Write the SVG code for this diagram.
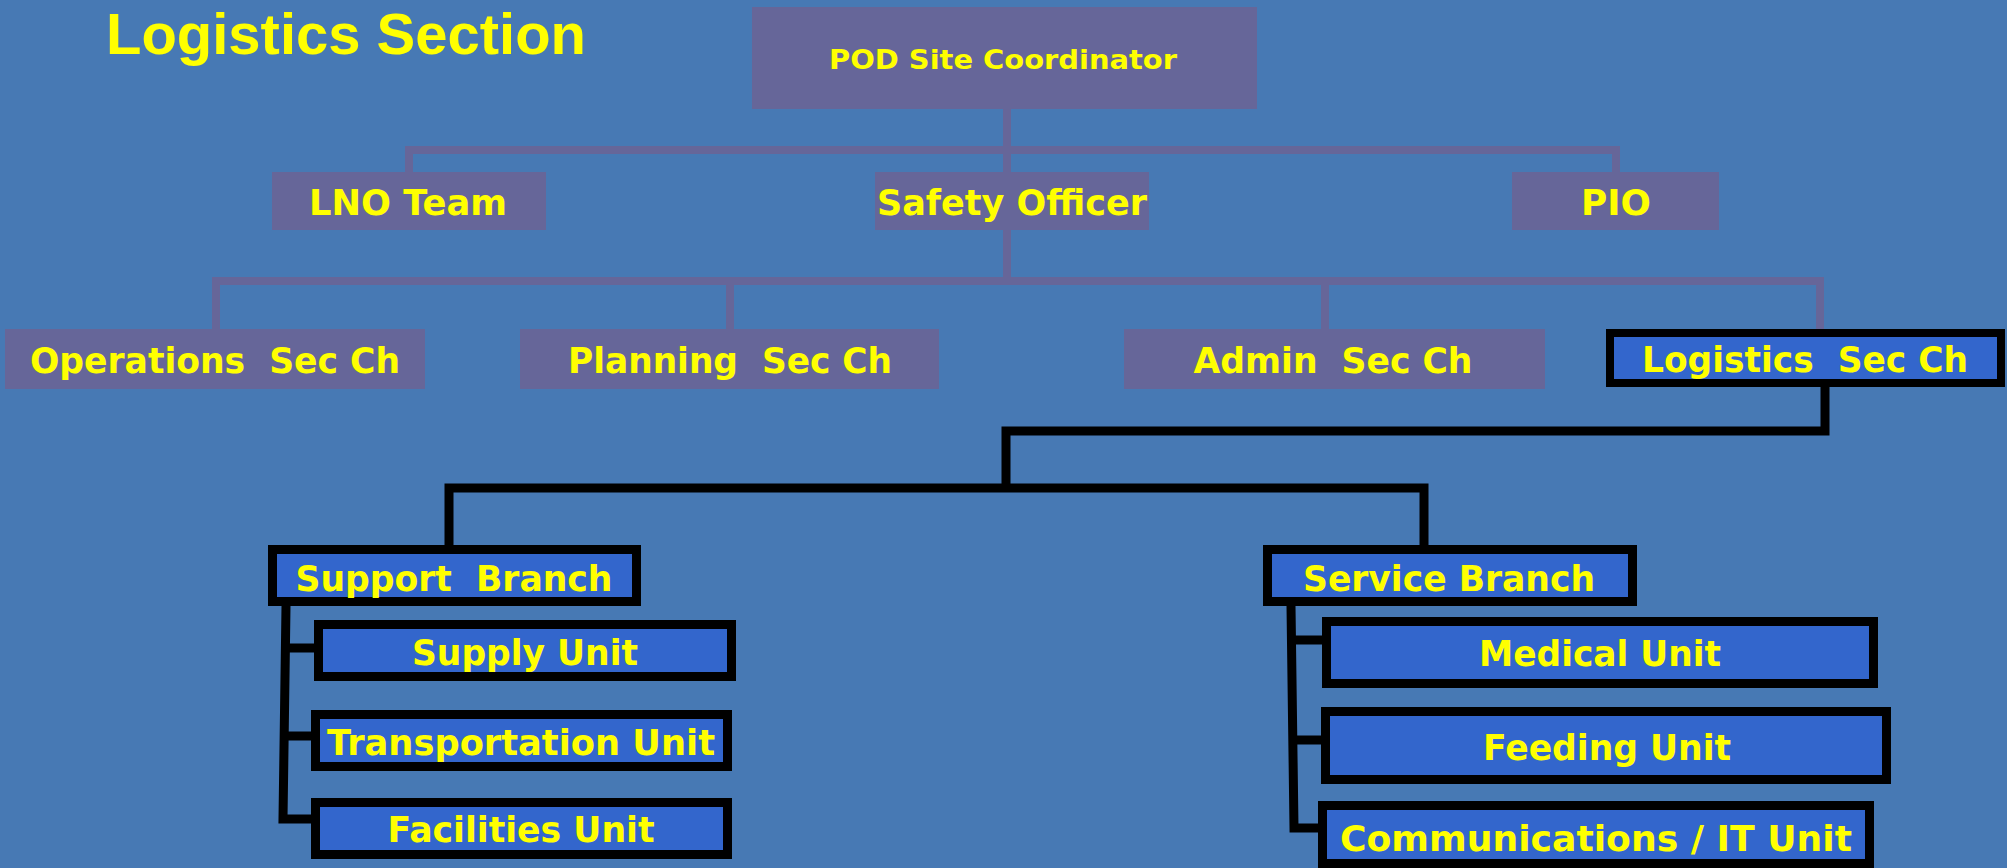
<svg xmlns="http://www.w3.org/2000/svg" width="2007" height="868" viewBox="0 0 2007 868">
<style>
.bg{fill:#4779B4}
.g{fill:#666699}
.b{fill:#3366CC;stroke:#000;stroke-width:9}
.t{font-family:"DejaVu Sans","Verdana",sans-serif;font-weight:bold;font-size:36px;fill:#FFFF00;text-anchor:middle}
.cg{fill:none;stroke:#666699;stroke-width:8;stroke-linejoin:miter}
.cb{fill:none;stroke:#000;stroke-width:9;stroke-linejoin:miter}
</style>
<rect class="bg" x="0" y="0" width="2007" height="868"/>
<text x="106" y="54" font-family="Liberation Sans, Arial, sans-serif" font-weight="bold" font-size="58" fill="#FFFF00" textLength="480" lengthAdjust="spacingAndGlyphs">Logistics Section</text>

<g id="connectors">
  <path class="cg" d="M1007,109 V150"/>
  <polyline class="cg" points="409,172 409,150 1616,150 1616,172"/>
  <path class="cg" d="M1007,150 V172"/>
  <path class="cg" d="M1007,230 V281"/>
  <polyline class="cg" points="216,329 216,281 1820,281 1820,329"/>
  <path class="cg" d="M730,281 V329"/>
  <path class="cg" d="M1325,281 V329"/>
  <polyline class="cb" points="1825,387 1825,431 1006,431 1006,492"/>
  <polyline class="cb" points="449,546 449,488 1424,488 1424,546"/>
  <polyline class="cb" points="286,606 283,819 311,819"/>
  <path class="cb" d="M286,648 H314"/>
  <path class="cb" d="M285,736 H311"/>
  <polyline class="cb" points="1291,606 1294,828 1318,828"/>
  <path class="cb" d="M1292,640 H1322"/>
  <path class="cb" d="M1293,740 H1321"/>
</g>

<g id="pod"><rect class="g" x="752" y="7" width="505" height="102"/><text class="t" x="1003" y="69" font-size="26" style="font-size:26px" textLength="348" lengthAdjust="spacingAndGlyphs">POD Site Coordinator</text></g>
<g id="lno"><rect class="g" x="272" y="172" width="274" height="58"/><text class="t" x="408" y="215" textLength="198" lengthAdjust="spacingAndGlyphs">LNO Team</text></g>
<g id="safety"><rect class="g" x="875" y="172" width="274" height="58"/><text class="t" x="1012" y="215" textLength="270" lengthAdjust="spacingAndGlyphs">Safety Officer</text></g>
<g id="pio"><rect class="g" x="1512" y="172" width="207" height="58"/><text class="t" x="1616" y="215" textLength="70" lengthAdjust="spacingAndGlyphs">PIO</text></g>

<g id="operations"><rect class="g" x="5" y="329" width="420" height="60"/><text class="t" x="215" y="373" xml:space="preserve" textLength="370" lengthAdjust="spacingAndGlyphs">Operations  Sec Ch</text></g>
<g id="planning"><rect class="g" x="520" y="329" width="419" height="60"/><text class="t" x="730" y="373" xml:space="preserve" textLength="324" lengthAdjust="spacingAndGlyphs">Planning  Sec Ch</text></g>
<g id="admin"><rect class="g" x="1124" y="329" width="421" height="60"/><text class="t" x="1333" y="373" xml:space="preserve" textLength="279" lengthAdjust="spacingAndGlyphs">Admin  Sec Ch</text></g>
<g id="logistics"><rect class="b" x="1610" y="333" width="391" height="50" style="stroke-width:8"/><text class="t" x="1805" y="372" xml:space="preserve" textLength="326" lengthAdjust="spacingAndGlyphs">Logistics  Sec Ch</text></g>

<g id="support"><rect class="b" x="272.5" y="549.5" width="364" height="52"/><text class="t" x="454" y="591" xml:space="preserve" textLength="317" lengthAdjust="spacingAndGlyphs">Support  Branch</text></g>
<g id="supply"><rect class="b" x="318.5" y="624.5" width="413" height="52"/><text class="t" x="525" y="665" textLength="226" lengthAdjust="spacingAndGlyphs">Supply Unit</text></g>
<g id="transportation"><rect class="b" x="315.5" y="714.5" width="412" height="52"/><text class="t" x="521" y="755" textLength="388" lengthAdjust="spacingAndGlyphs">Transportation Unit</text></g>
<g id="facilities"><rect class="b" x="315.5" y="802.5" width="412" height="52"/><text class="t" x="521" y="842" textLength="267" lengthAdjust="spacingAndGlyphs">Facilities Unit</text></g>

<g id="service"><rect class="b" x="1267.5" y="549.5" width="365" height="52"/><text class="t" x="1449" y="591" textLength="292" lengthAdjust="spacingAndGlyphs">Service Branch</text></g>
<g id="medical"><rect class="b" x="1326.5" y="621.5" width="547" height="62"/><text class="t" x="1600" y="666" textLength="242" lengthAdjust="spacingAndGlyphs">Medical Unit</text></g>
<g id="feeding"><rect class="b" x="1325.5" y="711.5" width="561" height="68"/><text class="t" x="1607" y="760" textLength="248" lengthAdjust="spacingAndGlyphs">Feeding Unit</text></g>
<g id="communications"><rect class="b" x="1322.5" y="805.5" width="547" height="58"/><text class="t" x="1596" y="851" textLength="512" lengthAdjust="spacingAndGlyphs">Communications / IT Unit</text></g>
</svg>
